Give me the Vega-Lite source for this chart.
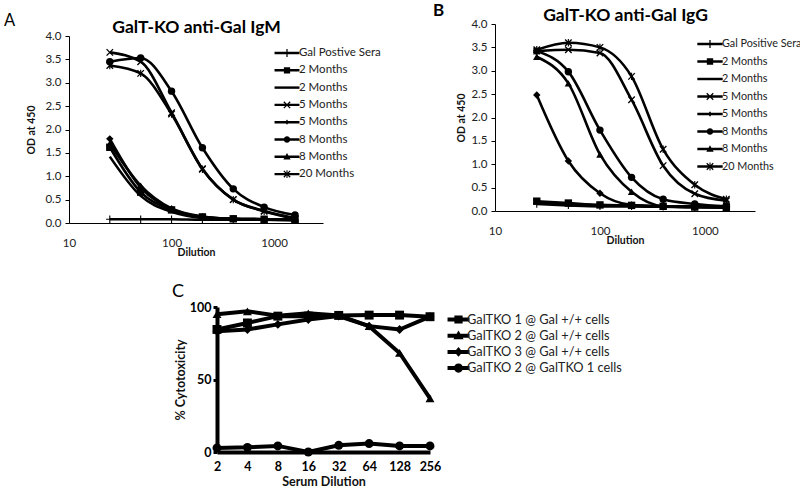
{
  "$schema": "https://vega.github.io/schema/vega-lite/v6.json",
  "padding": {"left": 3, "top": 2, "right": 0, "bottom": 0},
  "background": "white",
  "datasets": {
    "igm": [
      {"k": 1, "d": 25, "od": 0.08}, {"k": 1, "d": 50, "od": 0.08}, {"k": 1, "d": 100, "od": 0.08}, {"k": 1, "d": 200, "od": 0.07}, {"k": 1, "d": 400, "od": 0.07}, {"k": 1, "d": 800, "od": 0.07}, {"k": 1, "d": 1600, "od": 0.06},
      {"k": 2, "d": 25, "od": 1.62}, {"k": 2, "d": 50, "od": 0.66}, {"k": 2, "d": 100, "od": 0.28}, {"k": 2, "d": 200, "od": 0.13}, {"k": 2, "d": 400, "od": 0.09}, {"k": 2, "d": 800, "od": 0.08}, {"k": 2, "d": 1600, "od": 0.07},
      {"k": 3, "d": 25, "od": 1.42}, {"k": 3, "d": 50, "od": 0.58}, {"k": 3, "d": 100, "od": 0.24}, {"k": 3, "d": 200, "od": 0.11}, {"k": 3, "d": 400, "od": 0.08}, {"k": 3, "d": 800, "od": 0.07}, {"k": 3, "d": 1600, "od": 0.06},
      {"k": 4, "d": 25, "od": 3.65}, {"k": 4, "d": 50, "od": 3.45}, {"k": 4, "d": 100, "od": 2.36}, {"k": 4, "d": 200, "od": 1.16}, {"k": 4, "d": 400, "od": 0.5}, {"k": 4, "d": 800, "od": 0.26}, {"k": 4, "d": 1600, "od": 0.1},
      {"k": 5, "d": 25, "od": 1.8}, {"k": 5, "d": 50, "od": 0.76}, {"k": 5, "d": 100, "od": 0.3}, {"k": 5, "d": 200, "od": 0.13}, {"k": 5, "d": 400, "od": 0.09}, {"k": 5, "d": 800, "od": 0.08}, {"k": 5, "d": 1600, "od": 0.07},
      {"k": 6, "d": 25, "od": 3.45}, {"k": 6, "d": 50, "od": 3.53}, {"k": 6, "d": 100, "od": 2.82}, {"k": 6, "d": 200, "od": 1.61}, {"k": 6, "d": 400, "od": 0.73}, {"k": 6, "d": 800, "od": 0.34}, {"k": 6, "d": 1600, "od": 0.17},
      {"k": 7, "d": 25, "od": 1.7}, {"k": 7, "d": 50, "od": 0.8}, {"k": 7, "d": 100, "od": 0.31}, {"k": 7, "d": 200, "od": 0.14}, {"k": 7, "d": 400, "od": 0.09}, {"k": 7, "d": 800, "od": 0.08}, {"k": 7, "d": 1600, "od": 0.07},
      {"k": 8, "d": 25, "od": 3.37}, {"k": 8, "d": 50, "od": 3.2}, {"k": 8, "d": 100, "od": 2.33}, {"k": 8, "d": 200, "od": 1.15}, {"k": 8, "d": 400, "od": 0.5}, {"k": 8, "d": 800, "od": 0.25}, {"k": 8, "d": 1600, "od": 0.09}
    ],
    "igg": [
      {"k": 1, "d": 25, "od": 0.15}, {"k": 1, "d": 50, "od": 0.12}, {"k": 1, "d": 100, "od": 0.1}, {"k": 1, "d": 200, "od": 0.1}, {"k": 1, "d": 400, "od": 0.09}, {"k": 1, "d": 800, "od": 0.08}, {"k": 1, "d": 1600, "od": 0.08},
      {"k": 2, "d": 25, "od": 0.21}, {"k": 2, "d": 50, "od": 0.17}, {"k": 2, "d": 100, "od": 0.13}, {"k": 2, "d": 200, "od": 0.12}, {"k": 2, "d": 400, "od": 0.1}, {"k": 2, "d": 800, "od": 0.09}, {"k": 2, "d": 1600, "od": 0.07},
      {"k": 3, "d": 25, "od": 0.17}, {"k": 3, "d": 50, "od": 0.14}, {"k": 3, "d": 100, "od": 0.12}, {"k": 3, "d": 200, "od": 0.11}, {"k": 3, "d": 400, "od": 0.1}, {"k": 3, "d": 800, "od": 0.1}, {"k": 3, "d": 1600, "od": 0.1},
      {"k": 4, "d": 25, "od": 3.42}, {"k": 4, "d": 50, "od": 3.45}, {"k": 4, "d": 100, "od": 3.38}, {"k": 4, "d": 200, "od": 2.38}, {"k": 4, "d": 400, "od": 0.97}, {"k": 4, "d": 800, "od": 0.37}, {"k": 4, "d": 1600, "od": 0.22},
      {"k": 5, "d": 25, "od": 2.48}, {"k": 5, "d": 50, "od": 1.07}, {"k": 5, "d": 100, "od": 0.38}, {"k": 5, "d": 200, "od": 0.13}, {"k": 5, "d": 400, "od": 0.1}, {"k": 5, "d": 800, "od": 0.1}, {"k": 5, "d": 1600, "od": 0.1},
      {"k": 6, "d": 25, "od": 3.42}, {"k": 6, "d": 50, "od": 2.98}, {"k": 6, "d": 100, "od": 1.73}, {"k": 6, "d": 200, "od": 0.72}, {"k": 6, "d": 400, "od": 0.25}, {"k": 6, "d": 800, "od": 0.15}, {"k": 6, "d": 1600, "od": 0.1},
      {"k": 7, "d": 25, "od": 3.3}, {"k": 7, "d": 50, "od": 2.73}, {"k": 7, "d": 100, "od": 1.21}, {"k": 7, "d": 200, "od": 0.41}, {"k": 7, "d": 400, "od": 0.1}, {"k": 7, "d": 800, "od": 0.08}, {"k": 7, "d": 1600, "od": 0.07},
      {"k": 8, "d": 25, "od": 3.45}, {"k": 8, "d": 50, "od": 3.6}, {"k": 8, "d": 100, "od": 3.5}, {"k": 8, "d": 200, "od": 2.88}, {"k": 8, "d": 400, "od": 1.32}, {"k": 8, "d": 800, "od": 0.56}, {"k": 8, "d": 1600, "od": 0.25}
    ],
    "cyto": [
      {"k": 1, "dil": 2, "pct": 84.5}, {"k": 1, "dil": 4, "pct": 89}, {"k": 1, "dil": 8, "pct": 93.7}, {"k": 1, "dil": 16, "pct": 93.7}, {"k": 1, "dil": 32, "pct": 94.2}, {"k": 1, "dil": 64, "pct": 94.4}, {"k": 1, "dil": 128, "pct": 94.4}, {"k": 1, "dil": 256, "pct": 93.3},
      {"k": 2, "dil": 2, "pct": 95}, {"k": 2, "dil": 4, "pct": 97}, {"k": 2, "dil": 8, "pct": 94}, {"k": 2, "dil": 16, "pct": 95.6}, {"k": 2, "dil": 32, "pct": 94.2}, {"k": 2, "dil": 64, "pct": 86.8}, {"k": 2, "dil": 128, "pct": 68.3}, {"k": 2, "dil": 256, "pct": 37},
      {"k": 3, "dil": 2, "pct": 83.3}, {"k": 3, "dil": 4, "pct": 84.5}, {"k": 3, "dil": 8, "pct": 88}, {"k": 3, "dil": 16, "pct": 91.4}, {"k": 3, "dil": 32, "pct": 93.7}, {"k": 3, "dil": 64, "pct": 86.8}, {"k": 3, "dil": 128, "pct": 84.5}, {"k": 3, "dil": 256, "pct": 93.3},
      {"k": 4, "dil": 2, "pct": 2.8}, {"k": 4, "dil": 4, "pct": 3.2}, {"k": 4, "dil": 8, "pct": 4.2}, {"k": 4, "dil": 16, "pct": 0}, {"k": 4, "dil": 32, "pct": 4.6}, {"k": 4, "dil": 64, "pct": 5.8}, {"k": 4, "dil": 128, "pct": 4.2}, {"k": 4, "dil": 256, "pct": 4.2}
    ]
  },
  "vconcat": [
    {
      "hconcat": [
        {
          "width": 254,
          "height": 199,
          "data": {"name": "igm"},
          "title": {"text": "A", "anchor": "start", "frame": "bounds", "fontSize": 16.5, "fontWeight": "normal", "offset": -11, "dx": -23, "color": "black"},
          "layer": [
            {
              "mark": {"type": "line", "interpolate": "monotone", "strokeWidth": 2.6, "color": "black", "point": {"filled": true, "size": 55, "color": "black"}},
              "encoding": {
                "x": {"field": "d", "type": "quantitative", "scale": {"type": "log", "domain": [10, 3000], "nice": false},
                  "axis": {"orient": "bottom", "values": [10, 100, 1000], "format": "d", "ticks": false, "labelPadding": 14, "labelFontSize": 11.5, "title": "Dilution", "titleFontSize": 10.5, "titleFontWeight": "bold", "titlePadding": -1}},
                "y": {"field": "od", "type": "quantitative", "scale": {"domain": [0, 4], "nice": false, "range": [199, 12]},
                  "axis": {"values": [0, 0.5, 1, 1.5, 2, 2.5, 3, 3.5, 4], "format": ".1f", "labelOverlap": false, "tickSize": 4, "labelPadding": 4, "labelFontSize": 11.5, "title": "OD at 450", "titleFontSize": 10.5, "titleFontWeight": "bold", "titlePadding": 8}},
                "detail": {"field": "k", "type": "nominal"},
                "shape": {"field": "k", "type": "nominal", "legend": null,
                  "scale": {"domain": [1, 2, 3, 4, 5, 6, 7, 8],
                    "range": [
                      "M-1,-0.15H1V0.15H-1Z M-0.15,-1H0.15V1H-0.15Z",
                      "square",
                      "M0,0",
                      "M-1,-0.75L-0.75,-1L1,0.75L0.75,1Z M0.75,-1L1,-0.75L-0.75,1L-1,0.75Z",
                      "diamond",
                      "circle",
                      "triangle-up",
                      "M-1,-0.75L-0.75,-1L1,0.75L0.75,1Z M0.75,-1L1,-0.75L-0.75,1L-1,0.75Z M-0.15,-1H0.15V1H-0.15Z"
                    ]}}
              }
            },
            {
              "mark": {"type": "point", "filled": true, "color": "black", "opacity": 0},
              "encoding": {
                "x": {"field": "d", "type": "quantitative",
                  "axis": {"orient": "top", "title": "GalT-KO anti-Gal IgM", "labels": false, "ticks": false, "domain": false, "titleFontSize": 17.5, "titleFontWeight": "bold", "titleColor": "black", "titlePadding": -12}},
                "y": {"field": "od", "type": "quantitative",
                  "axis": {"values": [0, 0.5, 1, 1.5, 2, 2.5, 3, 3.5, 4], "format": ".1f", "labelOverlap": false, "tickSize": 4, "labelPadding": 4, "labelFontSize": 11.5, "title": "OD at 450", "titleFontSize": 10.5, "titleFontWeight": "bold", "titlePadding": 8}},
                "shape": {"field": "k", "type": "nominal",
                  "scale": {"domain": [1, 2, 3, 4, 5, 6, 7, 8],
                    "range": [
                      "M-1.44,-0.14H1.44V0.14H-1.44Z M-0.07,-0.45H0.07V0.45H-0.07Z",
                      "M-1.44,-0.14H1.44V0.14H-1.44Z M-0.36,-0.36H0.36V0.36H-0.36Z",
                      "M-1.44,-0.14H1.44V0.14H-1.44Z",
                      "M-1.44,-0.14H1.44V0.14H-1.44Z M-0.42,-0.32L-0.32,-0.42L0.42,0.32L0.32,0.42Z M0.32,-0.42L0.42,-0.32L-0.32,0.42L-0.42,0.32Z",
                      "M-1.44,-0.14H1.44V0.14H-1.44Z M0,-0.3L0.22,0L0,0.3L-0.22,0Z",
                      "M-1.44,-0.14H1.44V0.14H-1.44Z M-0.38,0A0.38,0.38 0 1,1 0.38,0A0.38,0.38 0 1,1 -0.38,0Z",
                      "M-1.44,-0.14H1.44V0.14H-1.44Z M0,-0.44L0.42,0.3H-0.42Z",
                      "M-1.44,-0.14H1.44V0.14H-1.44Z M-0.42,-0.32L-0.32,-0.42L0.42,0.32L0.32,0.42Z M0.32,-0.42L0.42,-0.32L-0.32,0.42L-0.42,0.32Z M-0.06,-0.45H0.06V0.45H-0.06Z"
                    ]},
                  "legend": {"orient": "none", "legendX": 209, "legendY": 20, "title": null, "symbolSize": 300, "symbolOpacity": 1, "symbolStrokeWidth": 0, "symbolFillColor": "black", "labelFontSize": 11.5, "labelColor": "#222", "labelOffset": 3, "rowPadding": 2.3, "padding": 0, "labelLimit": 200,
                    "labelExpr": "['Gal Postive Sera','2 Months','2 Months','5 Months','5 Months','8 Months','8 Months','20 Months'][toNumber(datum.value)-1]"}}
              }
            }
          ],
          "resolve": {"scale": {"shape": "independent"}, "legend": {"shape": "independent"}}
        },
        {
          "width": 260,
          "height": 187,
          "data": {"name": "igg"},
          "title": {"text": "B", "anchor": "start", "frame": "bounds", "fontSize": 17, "fontWeight": "bold", "offset": -14, "dx": -24, "color": "black"},
          "layer": [
            {
              "mark": {"type": "line", "interpolate": "monotone", "strokeWidth": 2.6, "color": "black", "point": {"filled": true, "size": 55, "color": "black"}},
              "encoding": {
                "x": {"field": "d", "type": "quantitative", "scale": {"type": "log", "domain": [10, 3000], "nice": false},
                  "axis": {"orient": "bottom", "values": [10, 100, 1000], "format": "d", "ticks": false, "labelPadding": 14, "labelFontSize": 11.5, "title": "Dilution", "titleFontSize": 10.5, "titleFontWeight": "bold", "titlePadding": -1}},
                "y": {"field": "od", "type": "quantitative", "scale": {"domain": [0, 4], "nice": false},
                  "axis": {"values": [0, 0.5, 1, 1.5, 2, 2.5, 3, 3.5, 4], "format": ".1f", "labelOverlap": false, "tickSize": 4, "labelPadding": 4, "labelFontSize": 11.5, "title": "OD at 450", "titleFontSize": 10.5, "titleFontWeight": "bold", "titlePadding": 4}},
                "detail": {"field": "k", "type": "nominal"},
                "shape": {"field": "k", "type": "nominal", "legend": null,
                  "scale": {"domain": [1, 2, 3, 4, 5, 6, 7, 8],
                    "range": [
                      "M-1,-0.15H1V0.15H-1Z M-0.15,-1H0.15V1H-0.15Z",
                      "square",
                      "M0,0",
                      "M-1,-0.75L-0.75,-1L1,0.75L0.75,1Z M0.75,-1L1,-0.75L-0.75,1L-1,0.75Z",
                      "diamond",
                      "circle",
                      "triangle-up",
                      "M-1,-0.75L-0.75,-1L1,0.75L0.75,1Z M0.75,-1L1,-0.75L-0.75,1L-1,0.75Z M-0.15,-1H0.15V1H-0.15Z"
                    ]}}
              }
            },
            {
              "mark": {"type": "point", "filled": true, "color": "black", "opacity": 0},
              "encoding": {
                "x": {"field": "d", "type": "quantitative",
                  "axis": {"orient": "top", "title": "GalT-KO anti-Gal IgG", "labels": false, "ticks": false, "domain": false, "titleFontSize": 17.5, "titleFontWeight": "bold", "titleColor": "black", "titlePadding": 0}},
                "y": {"field": "od", "type": "quantitative",
                  "axis": {"values": [0, 0.5, 1, 1.5, 2, 2.5, 3, 3.5, 4], "format": ".1f", "labelOverlap": false, "tickSize": 4, "labelPadding": 4, "labelFontSize": 11.5, "title": "OD at 450", "titleFontSize": 10.5, "titleFontWeight": "bold", "titlePadding": 4}},
                "shape": {"field": "k", "type": "nominal",
                  "scale": {"domain": [1, 2, 3, 4, 5, 6, 7, 8],
                    "range": [
                      "M-1.44,-0.14H1.44V0.14H-1.44Z M-0.07,-0.45H0.07V0.45H-0.07Z",
                      "M-1.44,-0.14H1.44V0.14H-1.44Z M-0.36,-0.36H0.36V0.36H-0.36Z",
                      "M-1.44,-0.14H1.44V0.14H-1.44Z",
                      "M-1.44,-0.14H1.44V0.14H-1.44Z M-0.42,-0.32L-0.32,-0.42L0.42,0.32L0.32,0.42Z M0.32,-0.42L0.42,-0.32L-0.32,0.42L-0.42,0.32Z",
                      "M-1.44,-0.14H1.44V0.14H-1.44Z M0,-0.3L0.22,0L0,0.3L-0.22,0Z",
                      "M-1.44,-0.14H1.44V0.14H-1.44Z M-0.38,0A0.38,0.38 0 1,1 0.38,0A0.38,0.38 0 1,1 -0.38,0Z",
                      "M-1.44,-0.14H1.44V0.14H-1.44Z M0,-0.44L0.42,0.3H-0.42Z",
                      "M-1.44,-0.14H1.44V0.14H-1.44Z M-0.42,-0.32L-0.32,-0.42L0.42,0.32L0.32,0.42Z M0.32,-0.42L0.42,-0.32L-0.32,0.42L-0.42,0.32Z M-0.06,-0.45H0.06V0.45H-0.06Z"
                    ]},
                  "legend": {"orient": "none", "legendX": 206, "legendY": 11, "title": null, "symbolSize": 310, "symbolOpacity": 1, "symbolStrokeWidth": 0, "symbolFillColor": "black", "labelFontSize": 10.8, "labelColor": "#222", "labelOffset": 3, "rowPadding": 3.5, "padding": 0, "labelLimit": 200,
                    "labelExpr": "['Gal Positive Sera','2 Months','2 Months','5 Months','5 Months','8 Months','8 Months','20 Months'][toNumber(datum.value)-1]"}}
              }
            }
          ],
          "resolve": {"scale": {"shape": "independent"}, "legend": {"shape": "independent"}}
        }
      ],
      "spacing": 51,
      "resolve": {"scale": {"shape": "independent"}, "legend": {"shape": "independent"}}
    },
    {
      "width": 361,
      "height": 145,
      "data": {"name": "cyto"},
      "title": {"text": "C", "anchor": "start", "frame": "group", "fontSize": 18, "fontWeight": "normal", "offset": 0, "dx": 103, "color": "black"},
      "layer": [
        {
          "mark": {"type": "line", "strokeWidth": 4, "color": "black"},
          "encoding": {
            "x": {"field": "dil", "type": "quantitative", "scale": {"type": "log", "base": 2, "domain": [2, 256], "nice": false, "range": [148, 361]},
              "axis": {"values": [2, 4, 8, 16, 32, 64, 128, 256], "format": "d", "ticks": false, "labelPadding": 8, "labelFontSize": 12.5, "labelFontWeight": "bold", "labelColor": "black", "domainWidth": 4, "title": "Serum Dilution", "titleFontSize": 12.5, "titleFontWeight": "bold", "titlePadding": 3}},
            "y": {"field": "pct", "type": "quantitative", "scale": {"domain": [0, 100], "nice": false},
              "axis": {"offset": -148, "values": [0, 50, 100], "tickSize": 4, "tickWidth": 3, "domainWidth": 4, "labelPadding": 2, "labelFontSize": 12.5, "labelFontWeight": "bold", "labelColor": "black", "title": "% Cytotoxicity", "titleFontSize": 12.5, "titleFontWeight": "bold", "titlePadding": 2}},
            "detail": {"field": "k", "type": "nominal"}
          }
        },
        {
          "mark": {"type": "point", "filled": true, "color": "black", "size": 80, "opacity": 1},
          "encoding": {
            "x": {"field": "dil", "type": "quantitative"},
            "y": {"field": "pct", "type": "quantitative"},
            "shape": {"field": "k", "type": "nominal", "legend": null,
              "scale": {"domain": [1, 2, 3, 4], "range": ["square", "triangle-up", "diamond", "circle"]}}
          }
        },
        {
          "mark": {"type": "point", "filled": true, "color": "black", "opacity": 0},
          "encoding": {
            "x": {"field": "dil", "type": "quantitative"},
            "y": {"field": "pct", "type": "quantitative"},
            "shape": {"field": "k", "type": "nominal",
              "scale": {"domain": [1, 2, 3, 4],
                "range": [
                  "M-1.33,-0.24H1.33V0.24H-1.33Z M-0.5,-0.5H0.5V0.5H-0.5Z",
                  "M-1.33,-0.24H1.33V0.24H-1.33Z M0,-0.62L0.62,0.42H-0.62Z",
                  "M-1.33,-0.24H1.33V0.24H-1.33Z M0,-0.6L0.5,0L0,0.6L-0.5,0Z",
                  "M-1.33,-0.24H1.33V0.24H-1.33Z M-0.55,0A0.55,0.55 0 1,1 0.55,0A0.55,0.55 0 1,1 -0.55,0Z"
                ]},
              "legend": {"orient": "none", "legendX": 381, "legendY": 4, "title": null, "symbolSize": 272, "symbolOpacity": 1, "symbolStrokeWidth": 0, "symbolFillColor": "black", "labelFontSize": 12.8, "labelColor": "#222", "labelOffset": 0, "rowPadding": 0.2, "padding": 0, "labelLimit": 250,
                "labelExpr": "['GalTKO 1 @ Gal +/+ cells','GalTKO 2 @ Gal +/+ cells','GalTKO 3 @ Gal +/+ cells','GalTKO 2 @ GalTKO 1 cells'][toNumber(datum.value)-1]"}}
          }
        }
      ],
      "resolve": {"scale": {"shape": "independent"}, "legend": {"shape": "independent"}}
    }
  ],
  "spacing": 25,
  "resolve": {"scale": {"shape": "independent"}, "legend": {"shape": "independent"}},
  "config": {
    "font": "Lato",
    "view": {"stroke": null},
    "axis": {"grid": false, "domainColor": "black", "tickColor": "black", "labelColor": "#222", "titleColor": "#111", "labelFlush": false, "labelFont": "Lato", "titleFont": "Lato"},
    "legend": {"labelFont": "Lato"},
    "title": {"font": "Lato", "color": "black"}
  }
}
